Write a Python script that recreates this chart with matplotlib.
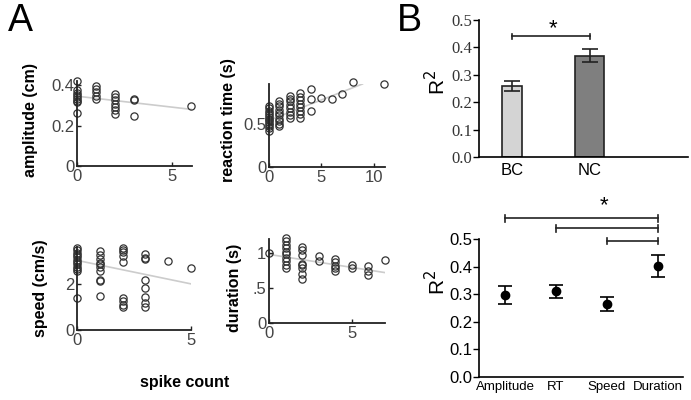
import matplotlib
matplotlib.use('Agg')
import matplotlib.pyplot as plt
import numpy as np

plt.rcParams['font.family'] = ['Liberation Sans', 'DejaVu Sans']

# Panel A: spike count vs kinematic measures
amp_spikes = [0, 0, 0, 0, 0, 0, 0, 0, 0, 1, 1, 1, 1, 1, 2, 2, 2, 2, 2, 2, 2, 3, 3, 3, 6]
amp_vals = [0.418, 0.375, 0.36, 0.35, 0.34, 0.33, 0.32, 0.315, 0.262,
            0.397, 0.38, 0.364, 0.348, 0.332,
            0.356, 0.34, 0.324, 0.307, 0.29, 0.275, 0.258,
            0.332, 0.325, 0.247, 0.296]
amp_fit = [0.345, 0.28]
amp_fit_x = [0, 6]

rt_spikes = [0] * 13 + [1] * 10 + [2] * 8 + [3] * 8 + [4, 4, 4, 5, 6, 7, 8, 11]
rt_vals = [0.42, 0.45, 0.48, 0.5, 0.52, 0.54, 0.56, 0.58, 0.6, 0.62, 0.65, 0.68, 0.7,
           0.475, 0.5, 0.53, 0.56, 0.6, 0.63, 0.66, 0.7, 0.73, 0.76,
           0.57, 0.6, 0.64, 0.68, 0.72, 0.76, 0.79, 0.82,
           0.57, 0.61, 0.65, 0.69, 0.73, 0.77, 0.81, 0.86,
           0.645, 0.79, 0.9, 0.8, 0.79, 0.85, 0.98, 0.96]
rt_fit = [0.54, 0.96]
rt_fit_x = [0, 8.9]

speed_spikes = [0] * 12 + [1] * 10 + [2] * 9 + [3] * 8 + [4, 5]
speed_vals = [3.57, 3.45, 3.35, 3.25, 3.15, 3.05, 2.95, 2.85, 2.75, 2.65, 2.55, 1.39,
              3.42, 3.25, 3.06, 2.91, 2.88, 2.72, 2.55, 2.19, 2.12, 1.46,
              3.57, 3.45, 3.4, 3.2, 2.96, 1.39, 1.25, 1.1, 0.99,
              3.3, 3.13, 3.06, 2.19, 1.83, 1.42, 1.17, 0.99,
              2.99, 2.67]
speed_fit = [3.02, 2.0]
speed_fit_x = [0, 5]

dur_spikes = [0] + [1] * 10 + [2] * 8 + [3] * 2 + [4] * 5 + [5] * 2 + [6] * 3 + [7]
dur_vals = [1.0,
            1.21, 1.17, 1.12, 1.07, 1.02, 0.98, 0.93, 0.88, 0.83, 0.79,
            1.09, 1.04, 0.97, 0.85, 0.83, 0.78, 0.70, 0.63,
            0.96, 0.89,
            0.92, 0.87, 0.82, 0.79, 0.75,
            0.83, 0.78,
            0.82, 0.75, 0.69,
            0.90]
dur_fit = [0.98, 0.72]
dur_fit_x = [0, 7]

# Panel B
groups = ['BC', 'NC']
group_r2 = [0.26, 0.37]
group_sem = [0.018, 0.025]

measures = ['Amplitude', 'RT', 'Speed', 'Duration']
measure_r2 = [0.298, 0.31, 0.265, 0.402]
measure_sem = [0.032, 0.025, 0.025, 0.04]
bracket_starts = [0, 1, 2]
bracket_heights = [0.575, 0.539, 0.493]

W, H = 691, 400
fig = plt.figure(figsize=(W / 100, H / 100), dpi=100)


def px_axes(x0, y_top, x1, y_bot):
    # pixel box (from top-left) -> figure fraction axes
    return fig.add_axes([x0 / W, 1 - y_bot / H, (x1 - x0) / W, (y_bot - y_top) / H])


def scatter_panel(box, xs, ys, fit_x, fit_y, xlim, ylim, xticks, yticks, yticklabels, label, label_pos):
    ax = px_axes(*box)
    ax.plot(fit_x, fit_y, color='#cccccc', lw=1.2, zorder=1)
    ax.plot(xs, ys, 'o', mfc='none', mec='#333333', ms=5.2, mew=0.9, clip_on=False, zorder=2)
    ax.set_xlim(*xlim)
    ax.set_ylim(*ylim)
    for s in ['top', 'right']:
        ax.spines[s].set_visible(False)
    for s in ['left', 'bottom']:
        ax.spines[s].set_linewidth(1.3)
        ax.spines[s].set_color('#222222')
    ax.set_xticks(xticks)
    ax.set_yticks(yticks)
    ax.set_yticklabels(yticklabels)
    ax.tick_params(direction='in', length=3, width=1, colors='#222222',
                   labelsize=12, labelcolor='#444444', pad=2)
    fig.text(label_pos[0] / W, 1 - label_pos[1] / H, label, rotation=90,
             ha='center', va='center', fontsize=11.5, fontweight='bold')
    return ax


scatter_panel((77, 81, 192, 166), amp_spikes, amp_vals, amp_fit_x, amp_fit,
              (0, 6.05), (0, 0.42), [0, 5], [0, 0.2, 0.4], ['0', '0.2', '0.4'],
              'amplitude (cm)', (30, 120))
scatter_panel((269, 84, 385, 167), rt_spikes, rt_vals, rt_fit_x, rt_fit,
              (0, 11.05), (0, 0.96), [0, 5, 10], [0, 0.5], ['0', '0.5'],
              'reaction time (s)', (229, 120))
scatter_panel((77, 247, 191, 330), speed_spikes, speed_vals, speed_fit_x, speed_fit,
              (0, 5), (0, 3.6), [0, 5], [0, 2], ['0', '2'],
              'speed (cm/s)', (40, 288))
scatter_panel((269, 239, 385, 323), dur_spikes, dur_vals, dur_fit_x, dur_fit,
              (0, 7), (0, 1.2), [0, 5], [0, 0.5, 1], ['0', '.5', '1'],
              'duration (s)', (235, 288))

fig.text(185 / W, 1 - 383 / H, 'spike count', ha='center', va='center',
         fontsize=11.5, fontweight='bold')
fig.text(20 / W, 1 - 21 / H, 'A', ha='center', va='center', fontsize=27)
fig.text(409 / W, 1 - 21 / H, 'B', ha='center', va='center', fontsize=27)

# B top: bar chart
axb = px_axes(479, 20, 688, 157)
xpos = [1, 2]
widths = [0.265, 0.37]
axb.bar(xpos, group_r2, width=widths, color=['#d4d4d4', '#7f7f7f'],
        edgecolor='#222222', linewidth=1.2, zorder=2)
axb.errorbar(xpos, group_r2, yerr=group_sem, fmt='none', ecolor='#222222',
             elinewidth=1.2, capsize=6, capthick=1.2, zorder=3)
axb.set_xlim(0.577, 3.26)
axb.set_ylim(0, 0.5)
axb.set_xticks(xpos)
axb.set_xticklabels(groups, fontsize=12)
axb.set_yticks(np.arange(0, 0.51, 0.1))
axb.set_yticklabels(['%.1f' % v for v in np.arange(0, 0.51, 0.1)],
                    family='Liberation Serif', fontsize=12, color='#333333')
axb.tick_params(axis='y', length=4, width=1, pad=1)
axb.tick_params(axis='x', length=0, pad=4)
for s in ['top', 'right']:
    axb.spines[s].set_visible(False)
for s in ['left', 'bottom']:
    axb.spines[s].set_linewidth(1.2)
axb.plot([1, 2], [0.44, 0.44], color='#222222', lw=1.2, clip_on=False)
for xb in [1, 2]:
    axb.plot([xb, xb], [0.43, 0.45], color='#222222', lw=1.2, clip_on=False)
axb.text(1.53, 0.47, '*', ha='center', va='center', fontsize=16)
fig.text(437 / W, 1 - 82 / H, 'R$^2$', rotation=90, ha='center', va='center', fontsize=15)

# B bottom: dot plot with error bars
axd = px_axes(479, 239, 683, 377)
mpos = [1, 2, 3, 4]
axd.errorbar(mpos, measure_r2, yerr=measure_sem, fmt='o', color='black', ms=6,
             elinewidth=1.2, capsize=5, capthick=1.2)
axd.set_xlim(0.49, 4.49)
axd.set_ylim(0, 0.5)
axd.set_xticks(mpos)
axd.set_xticklabels(measures, fontsize=9.5)
axd.set_yticks(np.arange(0, 0.51, 0.1))
axd.set_yticklabels(['%.1f' % v for v in np.arange(0, 0.51, 0.1)], fontsize=12)
axd.tick_params(axis='y', length=4, width=1, pad=1)
axd.tick_params(axis='x', length=0, pad=3)
for s in ['top', 'right']:
    axd.spines[s].set_visible(False)
for s in ['left', 'bottom']:
    axd.spines[s].set_linewidth(1.2)
for start, hgt in zip(bracket_starts, bracket_heights):
    x0, x1 = mpos[start], mpos[-1]
    axd.plot([x0, x1], [hgt, hgt], color='#222222', lw=1.2, clip_on=False)
    for xb in [x0, x1]:
        axd.plot([xb, xb], [hgt - 0.012, hgt + 0.012], color='#222222', lw=1.2, clip_on=False)
axd.text(2.95, 0.62, '*', ha='center', va='center', fontsize=16)
fig.text(437 / W, 1 - 282 / H, 'R$^2$', rotation=90, ha='center', va='center', fontsize=15)

fig.savefig('out.png', dpi=100)
